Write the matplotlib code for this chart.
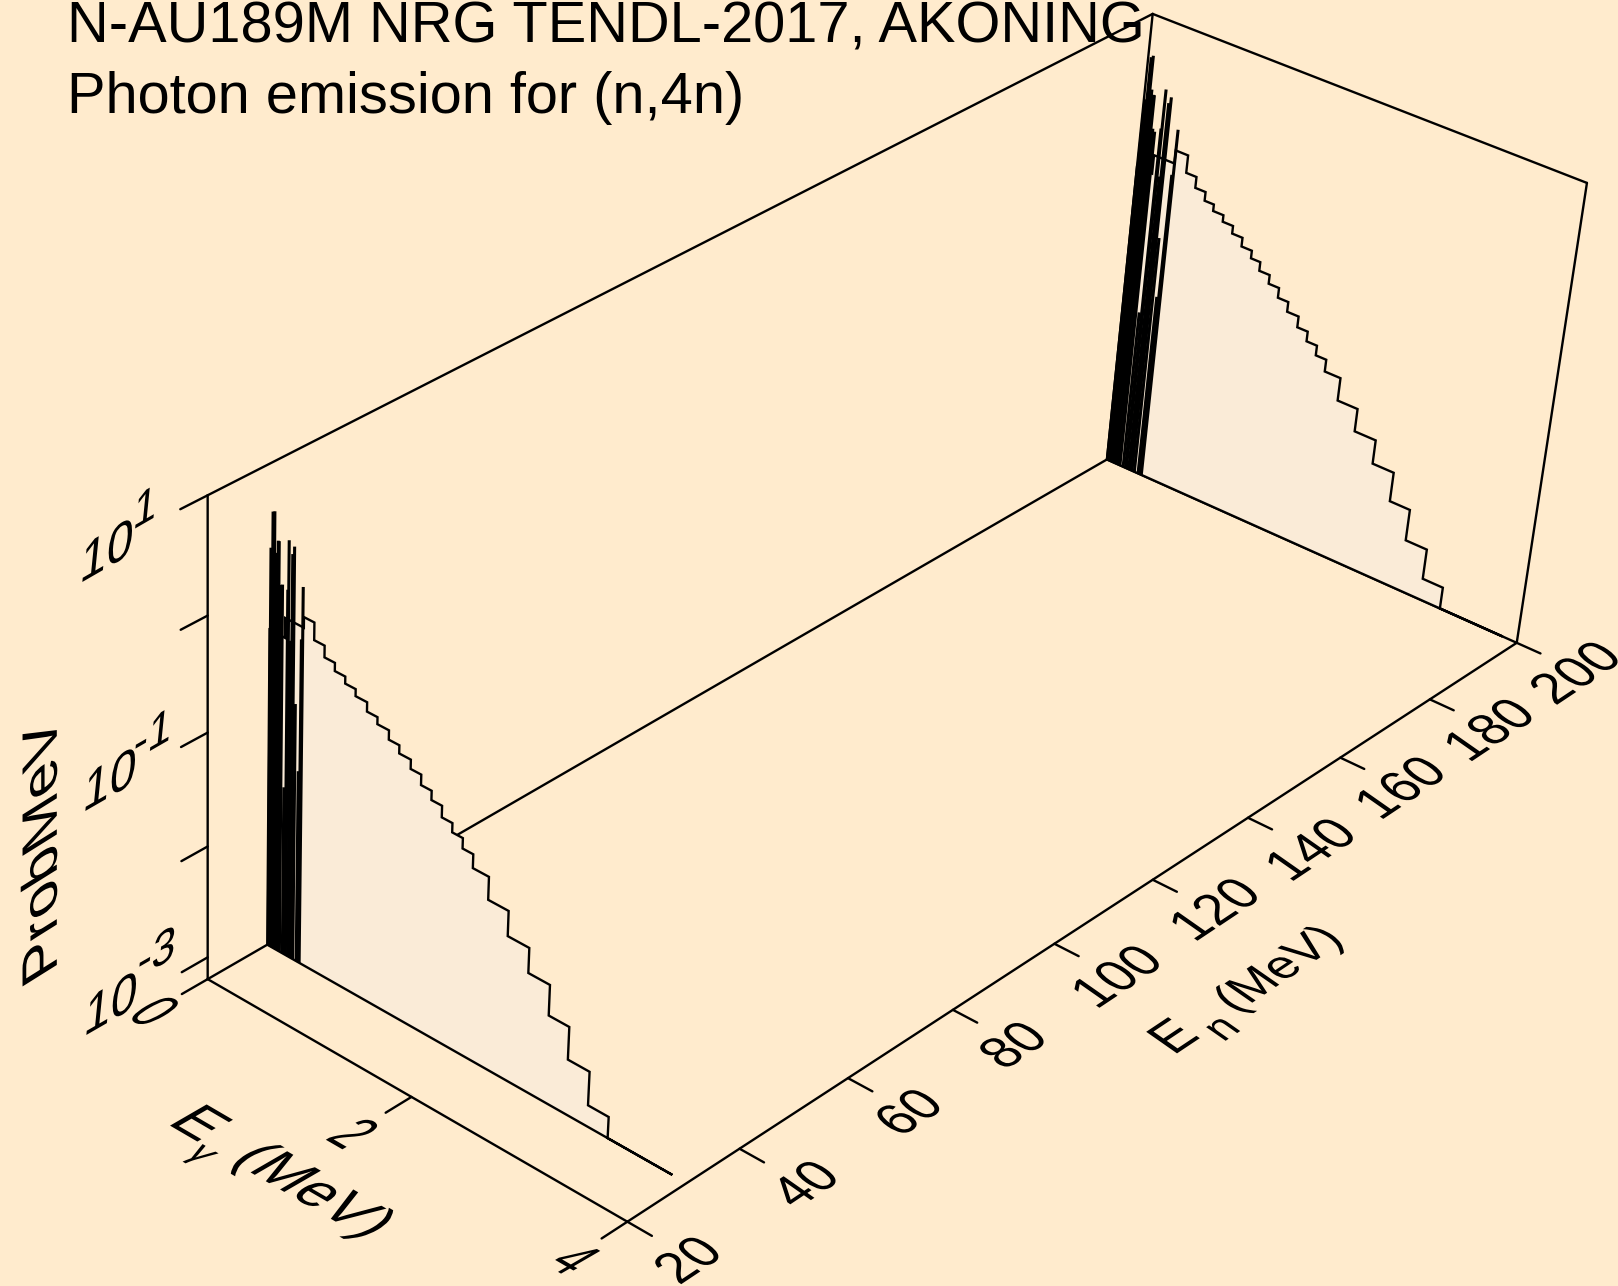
import numpy as np
import matplotlib
matplotlib.use("Agg")
import matplotlib.pyplot as plt
from matplotlib.patheffects import AbstractPathEffect
from matplotlib.textpath import TextPath
from matplotlib.font_manager import FontProperties
from matplotlib.transforms import Affine2D

plt.rcParams['font.family'] = ['Liberation Sans', 'DejaVu Sans']

# axis ranges
en_min, en_max = 20, 200
eg_min, eg_max = 0, 4
lz_min, lz_max = -3.2, 1

en_ticks = [20, 40, 60, 80, 100, 120, 140, 160, 180, 200]
eg_ticks = [0, 2, 4]
lz_ticks = [-3, -2, -1, 0, 1]

# incident energies of the two spectra
en_front = 30.5
en_back = 200

# continuum bins, MeV
front_edges = [0, 0.15, 0.33, 0.43, 0.53, 0.63, 0.73, 0.83, 0.94, 1.04, 1.15, 1.25, 1.36, 1.46, 1.56, 1.66, 1.76, 1.86,
               1.96, 2.11, 2.30, 2.50, 2.70, 2.89, 3.09, 3.28, 3.87]
back_edges = [0, 0.15, 0.35, 0.47, 0.57, 0.67, 0.76, 0.86, 0.96, 1.06, 1.16, 1.25, 1.35, 1.45, 1.55, 1.66, 1.76, 1.86,
              1.96, 2.11, 2.30, 2.50, 2.70, 2.89, 3.09, 3.28, 3.87]
# log10 of Prob/MeV per bin
front_cont = [-0.4, -0.23, -0.14, -0.29, -0.39, -0.46, -0.52, -0.58, -0.66, -0.72, -0.80, -0.87, -0.95,
              -1.04, -1.12, -1.22, -1.30, -1.39, -1.51, -1.71, -1.93, -2.15, -2.42, -2.71, -3.01, -3.2]
back_cont = [-0.4, -0.23, -0.11, -0.27, -0.37, -0.45, -0.51, -0.57, -0.64, -0.72, -0.79, -0.87, -0.95,
             -1.04, -1.13, -1.23, -1.32, -1.41, -1.52, -1.73, -1.94, -2.16, -2.43, -2.72, -3.0, -3.2]

# discrete gamma lines
front_line_eg = [0.0085, 0.026, 0.043, 0.060, 0.078, 0.087, 0.104, 0.122, 0.152, 0.173, 0.182, 0.204, 0.217,
                 0.234, 0.256, 0.291, 0.308, 0.320]
back_line_eg = [0.009, 0.029, 0.047, 0.066, 0.086, 0.095, 0.113, 0.133, 0.166, 0.190, 0.199, 0.223, 0.237,
                0.256, 0.280, 0.318, 0.337, 0.351]
front_lines = [0.30, 0.61, 0.62, 0.28, 0.39, 0.39, 0.03, 0.04, -1.70, 0.02, 0.44, -0.40, 0.34,
               0.41, -0.92, -1.49, -0.34, 0.11]
back_lines = [0.23, 0.62, 0.64, 0.34, 0.30, 0.30, 0.0, -0.02, -1.70, 0.03, 0.39, -0.40, 0.28,
              0.34, -0.95, -1.49, -0.34, 0.08]

BG = '#FFEBCD'
FILL = '#FAEBD7'
LW = 1.7
LINE_LW = 2.2

# where the corners of the box land in the image: (en, eg, log z) -> pixel
box_pts = [(20, 0, -3.2), (20, 0, 1), (200, 0, -3.2), (200, 0, 1), (20, 4, -3.2), (200, 4, -3.2), (200, 4, 1)]
box_px = [(208, 979.3), (207.7, 495), (1106.7, 460), (1152.6, 13.4), (627, 1221.8), (1517, 642), (1587, 183.7)]


def unit(en, eg, lz):
    return (en - en_min) / (en_max - en_min), (eg - eg_min) / (eg_max - eg_min), (lz - lz_min) / (lz_max - lz_min)


def fit_camera():
    rows = []
    for p, (x, y) in zip(box_pts, box_px):
        t, u, v = unit(*p)
        rows.append([t, u, v, 1, 0, 0, 0, 0, -x * t, -x * u, -x * v, -x])
        rows.append([0, 0, 0, 0, t, u, v, 1, -y * t, -y * u, -y * v, -y])
    _, _, vt = np.linalg.svd(np.array(rows))
    return vt[-1].reshape(3, 4)


CAM = fit_camera()


def project(en, eg, lz):
    en, eg, lz = np.broadcast_arrays(en, eg, lz)
    t, u, v = unit(en.astype(float), eg.astype(float), lz.astype(float))
    h = CAM @ np.vstack([t, u, v, np.ones_like(t)])
    return h[0] / h[2], h[1] / h[2]


class Shear(AbstractPathEffect):
    """draw text with its own baseline and up vectors (the box planes)"""
    def __init__(self, m):
        super().__init__()
        self.m = np.array(m).T

    def draw_path(self, renderer, gc, tpath, affine, rgbFace=None):
        a = affine.get_matrix().copy()
        a[:2, :2] = self.m @ a[:2, :2]
        renderer.draw_path(gc, tpath, Affine2D(a), rgbFace)


def plane_text(ax, cx, cy, s, em, u, v, style='normal'):
    # cx, cy is the centre of the ink, in pixels
    fp = FontProperties(family='Liberation Sans', style=style)
    box = TextPath((0, 0), s, size=em, prop=fp).get_extents()
    mx, my = (box.x0 + box.x1) / 2, (box.y0 + box.y1) / 2
    x = cx - (u[0] * mx + v[0] * my)
    y = cy + (u[1] * mx + v[1] * my)
    ax.text(x, y, s, fontsize=em * 0.72, fontfamily='Liberation Sans', fontstyle=style,
            ha='left', va='baseline', path_effects=[Shear((u, v))], color='k')


def seg(ax, a, b, **kw):
    x, y = project([a[0], b[0]], [a[1], b[1]], [a[2], b[2]])
    ax.plot(x, y, color='k', lw=LW, solid_capstyle='round', **kw)


def spectrum(ax, en, edges, cont, line_eg, lines, z):
    eg = np.repeat(edges, 2)[1:-1]
    lz = np.repeat(cont, 2)
    eg = np.r_[eg[0], eg, eg[-1]]
    lz = np.r_[lz_min, lz, lz_min]
    x, y = project(en, eg, lz)
    ax.fill(x, y, facecolor=FILL, edgecolor='k', lw=LW, joinstyle='miter', zorder=z)
    for e, top in zip(line_eg, lines):
        x, y = project(en, [e, e], [lz_min, top])
        ax.plot(x, y, color='k', lw=LINE_LW, solid_capstyle='butt', zorder=z + 0.1)


fig = plt.figure(figsize=(16.18, 12.86), dpi=100, facecolor=BG)
ax = fig.add_axes([0, 0, 1, 1])
ax.set_xlim(0, 1618)
ax.set_ylim(1286, 0)
ax.axis('off')

# back walls and floor
seg(ax, (20, 0, lz_min), (200, 0, lz_min), zorder=1)
seg(ax, (200, 0, lz_min), (200, 0, lz_max), zorder=1)
seg(ax, (20, 0, lz_max), (200, 0, lz_max), zorder=1)
seg(ax, (200, 0, lz_max), (200, 4, lz_max), zorder=1)
seg(ax, (200, 4, lz_max), (200, 4, lz_min), zorder=1)
seg(ax, (200, 0, lz_min), (200, 4, lz_min), zorder=1)

spectrum(ax, en_back, back_edges, back_cont, back_line_eg, back_lines, 2)
spectrum(ax, en_front, front_edges, front_cont, front_line_eg, front_lines, 3)

# front edges
seg(ax, (20, 0, lz_min), (20, 0, lz_max), zorder=4)
seg(ax, (20, 0, lz_min), (20, 4, lz_min), zorder=4)
seg(ax, (20, 4, lz_min), (200, 4, lz_min), zorder=4)

# ticks
for lz in lz_ticks:
    seg(ax, (20, 0, lz), (15.5, 0, lz), zorder=4)
for eg in eg_ticks:
    seg(ax, (20, eg, lz_min), (15.5, eg, lz_min), zorder=4)
for en in en_ticks:
    seg(ax, (en, 4, lz_min), (en, 4.22, lz_min), zorder=4)

# tick labels
z_u, z_v = (0.85, 0.49), (0.1, 1.0)
for (cx, cy), (ex, ey), exp in zip([(112, 1002), (111, 778), (108, 549)],
                                   [(157, 951), (153, 733), (146, 506)], ['-3', '-1', '1']):
    plane_text(ax, cx, cy, '10', 56, z_u, z_v)
    plane_text(ax, ex, ey, exp, 50, z_u, z_v)

eg_u, eg_v = (0.606, -0.35), (0.95, 0.55)
for (cx, cy), s in zip([(155, 1011), (354, 1133), (575, 1259)], ['0', '2', '4']):
    plane_text(ax, cx, cy, s, 60, eg_u, eg_v)

en_u, en_v = (0.75, 0.5), (-0.8, 0.56)
en_centres = [(666, 1220), (779, 1147), (880, 1077), (981, 1012), (1082, 945), (1177, 880), (1270, 822),
              (1357, 762), (1443, 706), (1526, 651)]
for (cx, cy), en in zip(en_centres, en_ticks):
    plane_text(ax, cx * 1.032, cy * 1.032, str(en), 56, en_u, en_v)

# axis titles
plane_text(ax, 39, 850, 'ProbMeV', 60, (0.0, 1.03), (-0.83, -0.52))
plane_text(ax, 202, 1123, 'E', 56, (0.9, -0.525), (0.95, 0.55))
plane_text(ax, 198, 1156, '\u03b3', 36, (0.9, -0.525), (0.95, 0.55))
plane_text(ax, 312, 1192, '(MeV)', 56, (0.9, -0.52), (0.95, 0.55))
plane_text(ax, 1173, 1035, 'E', 56, en_u, en_v)
plane_text(ax, 1223, 1029, 'n', 46, en_u, en_v)
plane_text(ax, 1280, 970, '(MeV)', 56, (0.72, 0.48), (-0.72, 0.5))

# title
ax.text(67, 43, 'N-AU189M NRG TENDL-2017, AKONING', fontsize=41.6, ha='left', va='baseline', zorder=5)
ax.text(67, 113, 'Photon emission for (n,4n)', fontsize=41.6, ha='left', va='baseline', zorder=5)

fig.savefig('out.png', dpi=100, facecolor=BG)
